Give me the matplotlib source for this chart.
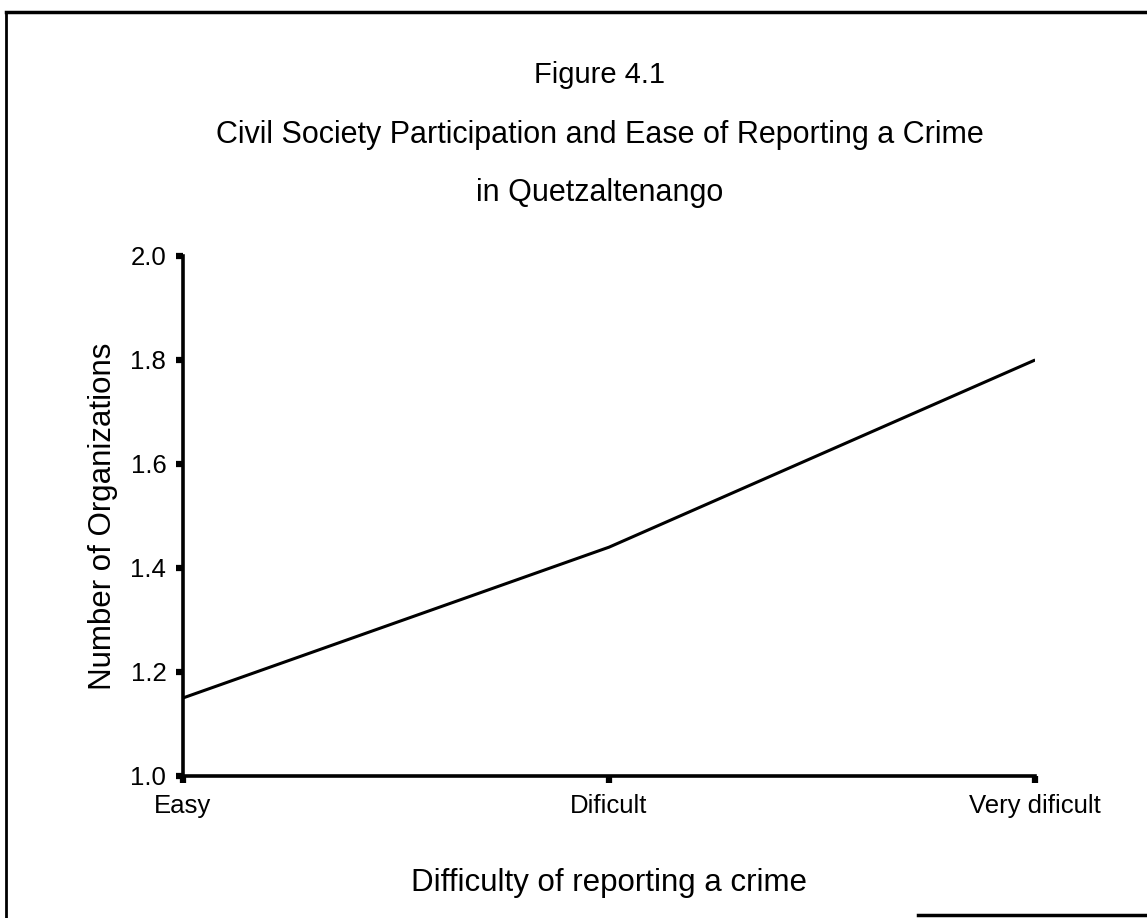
import matplotlib
matplotlib.use("Agg")
import matplotlib.pyplot as plt
from matplotlib.lines import Line2D

# data
categories = ["Easy", "Dificult", "Very dificult"]
num_orgs = [1.15, 1.44, 1.80]
y_ticks = [1.0, 1.2, 1.4, 1.6, 1.8, 2.0]
y_tick_labels = ["1.0", "1.2", "1.4", "1.6", "1.8", "2.0"]

plt.rcParams['font.family'] = ['Liberation Sans', 'DejaVu Sans']

fig = plt.figure(figsize=(11.47, 9.18), dpi=100)
fig.patch.set_facecolor("white")

# axes placed where the original chart sits
ax = fig.add_axes([0.1595, 0.1547, 0.743, 0.5665])
x = list(range(len(categories)))
ax.plot(x, num_orgs, color="black", linewidth=2.2, solid_capstyle="butt")

ax.set_xlim(0, 2)
ax.set_ylim(1.0, 2.0)
ax.set_yticks(y_ticks)
ax.set_yticklabels(y_tick_labels)
ax.set_xticks(x)
ax.set_xticklabels(categories)

for side in ["top", "right"]:
    ax.spines[side].set_visible(False)
for side in ["left", "bottom"]:
    ax.spines[side].set_linewidth(2.6)
    ax.spines[side].set_capstyle("projecting")

ax.tick_params(axis="both", direction="out", length=5, width=4.5,
               labelsize=18.5, color="black")
ax.tick_params(axis="y", pad=7)
ax.tick_params(axis="x", pad=8)

ax.set_ylabel("Number of Organizations", fontsize=22.5, labelpad=9)
ax.set_xlabel("Difficulty of reporting a crime", fontsize=22.5, labelpad=36)

# titles
fig.text(0.523, 0.918, "Figure 4.1", ha="center", va="center", fontsize=21)
fig.text(0.523, 0.853, "Civil Society Participation and Ease of Reporting a Crime",
         ha="center", va="center", fontsize=22)
fig.text(0.523, 0.790, "in Quetzaltenango", ha="center", va="center", fontsize=22)

# frame around the figure (left, top and part of bottom edges)
fig.add_artist(Line2D([0.005, 0.005], [0.0, 0.987], color="black", linewidth=2,
                      transform=fig.transFigure))
fig.add_artist(Line2D([0.005, 1.0], [0.987, 0.987], color="black", linewidth=2.5,
                      transform=fig.transFigure))
fig.add_artist(Line2D([0.80, 1.0], [0.003, 0.003], color="black", linewidth=2.5,
                      transform=fig.transFigure))

fig.savefig("out.png", dpi=100, facecolor="white")
